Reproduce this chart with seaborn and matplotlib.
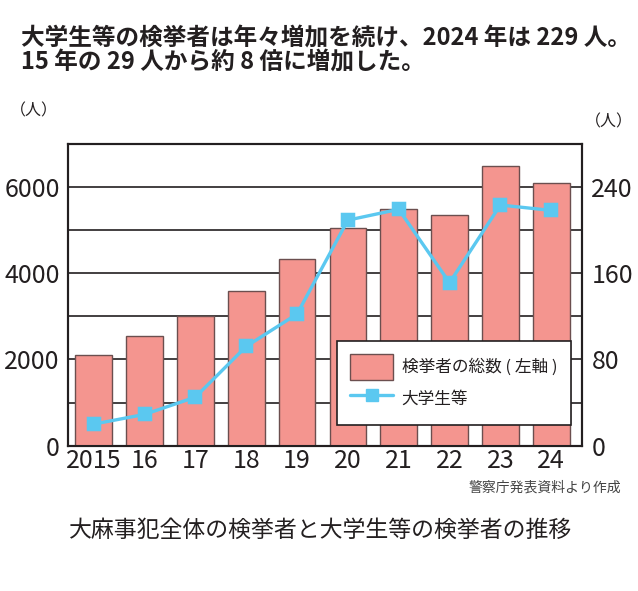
import numpy as np
import pandas as pd
import matplotlib
matplotlib.use('Agg')
import matplotlib.pyplot as plt
import seaborn as sns
from matplotlib.patches import Patch
from matplotlib.lines import Line2D
from matplotlib.font_manager import FontProperties

# ---- data ----
years = ['2015', '16', '17', '18', '19', '20', '21', '22', '23', '24']
total_arrests = [2101, 2536, 3008, 3578, 4321, 5034, 5482, 5342, 6482, 6078]
students = [20, 29, 45, 92, 122, 209, 219, 151, 223, 218]
left_ticks = [0, 2000, 4000, 6000]
right_ticks = [0, 80, 160, 240]
title_lines = ['大学生等の検挙者は年々増加を続け、2024 年は 229 人。',
               '15 年の 29 人から約 8 倍に増加した。']
legend_labels = ['検挙者の総数 ( 左軸 )', '大学生等']
unit_label = '（人）'
source_text = '警察庁発表資料より作成'
caption_text = '大麻事犯全体の検挙者と大学生等の検挙者の推移'

BAR = '#F4958F'
EDGE = '#6B4F4F'
LINE = '#5BC8F0'
INK = '#231F20'

sns.set_theme(style='white')
plt.rcParams['font.family'] = ['Liberation Sans Narrow', 'Noto Sans CJK JP', 'DejaVu Sans']
CJK = ['Noto Sans CJK JP', 'DejaVu Sans']

W, H = 638, 591
fig = plt.figure(figsize=(W / 100, H / 100), dpi=100)
fig.patch.set_facecolor('white')

L, R, T, B = 68.3, 581.7, 143.5, 445.7
ax1 = fig.add_axes([L / W, 1 - B / H, (R - L) / W, (B - T) / H])

df = pd.DataFrame({'year': years, 'total': total_arrests, 'students': students})
sns.barplot(data=df, x='year', y='total', ax=ax1, color=BAR, edgecolor=EDGE,
            linewidth=1.0, width=0.72, saturation=1, errorbar=None, zorder=3)

ax1.set_ylim(0, 7000)
ax1.set_yticks(left_ticks)
ax1.set_yticks(np.arange(0, 7001, 1000), minor=True)
ax1.set_axisbelow(True)
ax1.grid(True, which='both', axis='y', color=INK, linewidth=1.2)
ax1.grid(False, axis='x')
ax1.set_xlabel('')
ax1.set_ylabel('')
ax1.tick_params(axis='both', which='both', length=0, labelsize=18, colors=INK)
ax1.tick_params(axis='y', pad=6)
ax1.tick_params(axis='x', pad=2)

ax2 = ax1.twinx()
sns.pointplot(data=df, x='year', y='students', ax=ax2, color=LINE, markers='s',
              markersize=8.5, linewidth=2.4, errorbar=None)
ax2.set_ylim(0, 280)
ax2.set_yticks(right_ticks)
ax2.grid(False)
ax2.set_ylabel('')
ax2.set_xlabel('')
ax2.tick_params(axis='y', length=0, labelsize=18, colors=INK, pad=7)
ax1.set_xlim(-0.5, 9.6)

for ax in (ax1, ax2):
    for s in ax.spines.values():
        s.set_color(INK)
        s.set_linewidth(1.5)
        s.set_visible(True)

handles = [Patch(facecolor=BAR, edgecolor=EDGE, linewidth=1.0),
           Line2D([], [], color=LINE, lw=2.4, marker='s', markersize=8.5)]
leg = ax2.legend(handles, legend_labels, loc='upper left',
                 bbox_to_anchor=(336.7 / W, 1 - 340.7 / H), bbox_transform=fig.transFigure,
                 prop=FontProperties(family=CJK, size=12), frameon=True, fancybox=False,
                 edgecolor=INK, framealpha=1, borderpad=0.8, borderaxespad=0,
                 handlelength=2.6, handleheight=2.0, handletextpad=0.5, labelspacing=0.37)
leg.get_frame().set_linewidth(1.2)
for t in leg.get_texts():
    t.set_color(INK)

# titles and texts
fig.text(21 / W, 1 - 38 / H, title_lines[0], family=CJK, fontsize=17, fontweight='bold',
         color=INK, ha='left', va='center')
fig.text(21 / W, 1 - 62 / H, title_lines[1], family=CJK, fontsize=17, fontweight='bold',
         color=INK, ha='left', va='center')
fig.text(34 / W, 1 - 111 / H, unit_label, family=CJK, fontsize=11.5, color=INK,
         ha='center', va='center')
fig.text(609 / W, 1 - 122 / H, unit_label, family=CJK, fontsize=11.5, color=INK,
         ha='center', va='center')
fig.text(621 / W, 1 - 488 / H, source_text, family=CJK, fontsize=10, color='#444444',
         ha='right', va='center')
fig.text(321 / W, 1 - 530 / H, caption_text, family=CJK, fontsize=16.5, color=INK,
         ha='center', va='center')

fig.savefig('out.png', dpi=100, facecolor='white')
